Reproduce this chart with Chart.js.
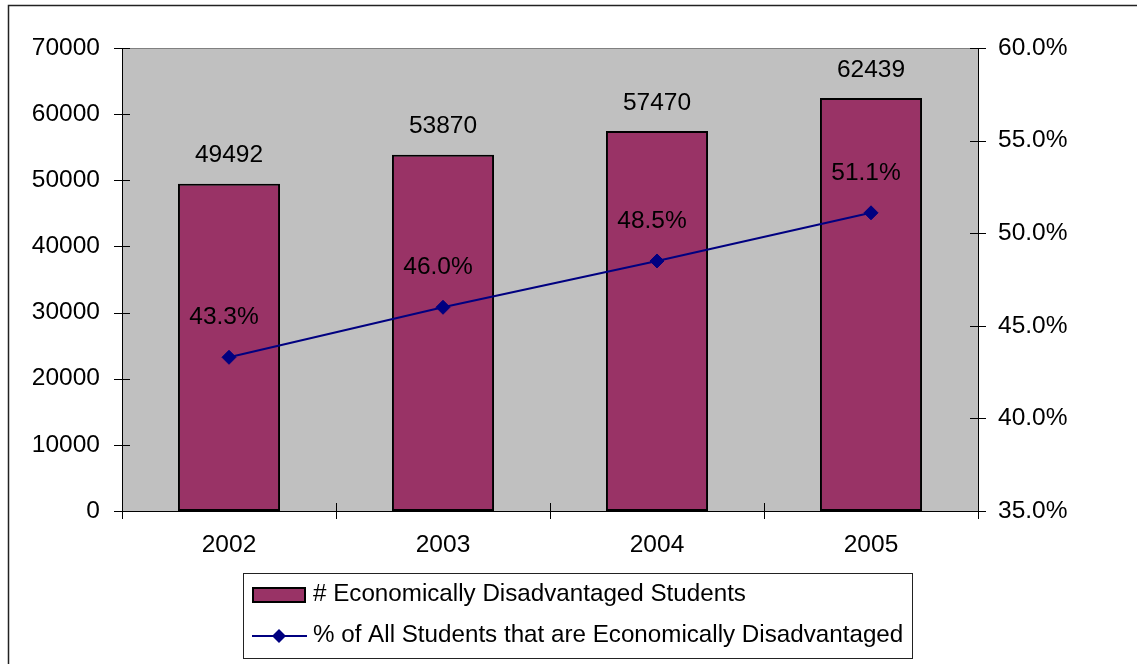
<!DOCTYPE html>
<html lang="en">
<head>
<meta charset="UTF-8">
<title>Economically Disadvantaged Students</title>
<script src="https://cdn.jsdelivr.net/npm/chart.js"></script>
<style>
    html, body { margin: 0; padding: 0; background: #fff; }
    #wrap { width: 1137px; height: 664px; }
</style>
</head>
<body>
<div id="wrap"><canvas id="chart" width="1137" height="664"></canvas></div>
<script>
    const years = ['2002', '2003', '2004', '2005'];
    const studentCounts = [49492, 53870, 57470, 62439];
    const studentPercents = [43.3, 46.0, 48.5, 51.1];
    const countAxis = { min: 0, max: 70000, step: 10000 };
    const percentAxis = { min: 35, max: 60, step: 5 };
    const countLabel = '# Economically Disadvantaged Students';
    const percentLabel = '% of All Students that are Economically Disadvantaged';

    const FONT = '"Liberation Sans", Arial, sans-serif';
    const FONT_SIZE = 24.5;
    const LEGEND_SIZE = 24.2;
    const BAR_COLOR = '#993366';
    const LINE_COLOR = '#000080';

    // frame, grey plot area and the small crossing tick marks
    const framePlugin = {
        id: 'frame',
        beforeDraw(chart) {
            const ctx = chart.ctx;
            ctx.save();
            ctx.strokeStyle = '#222';
            ctx.lineWidth = 1.5;
            ctx.beginPath();
            ctx.moveTo(8.5, chart.height);
            ctx.lineTo(8.5, 5.5);
            ctx.lineTo(chart.width, 5.5);
            ctx.stroke();
            ctx.restore();
        },
        beforeDatasetsDraw(chart) {
            const { ctx, chartArea: a } = chart;
            ctx.save();
            ctx.fillStyle = '#C0C0C0';
            ctx.fillRect(a.left, a.top, a.right - a.left, a.bottom - a.top);
            ctx.strokeStyle = '#808080';
            ctx.lineWidth = 1;
            ctx.strokeRect(a.left + 0.5, a.top + 0.5, a.right - a.left, a.bottom - a.top);
            ctx.restore();
        },
        afterDatasetsDraw(chart) {
            const { ctx, chartArea: a, scales } = chart;
            ctx.save();
            ctx.strokeStyle = '#000';
            ctx.lineWidth = 1;
            ctx.beginPath();
            // axis lines
            ctx.moveTo(a.left + 0.5, a.top); ctx.lineTo(a.left + 0.5, a.bottom);
            ctx.moveTo(a.right + 0.5, a.top); ctx.lineTo(a.right + 0.5, a.bottom);
            ctx.moveTo(a.left, a.bottom + 0.5); ctx.lineTo(a.right, a.bottom + 0.5);
            // left ticks
            scales.y.ticks.forEach(t => {
                const y = Math.round(scales.y.getPixelForValue(t.value)) + 0.5;
                ctx.moveTo(a.left - 8, y); ctx.lineTo(a.left + 8, y);
            });
            // right ticks
            scales.y1.ticks.forEach(t => {
                const y = Math.round(scales.y1.getPixelForValue(t.value)) + 0.5;
                ctx.moveTo(a.right - 8, y); ctx.lineTo(a.right + 8, y);
            });
            // category boundary ticks
            const n = years.length;
            const w = (a.right - a.left) / n;
            for (let i = 0; i <= n; i++) {
                const x = Math.round(a.left + w * i) + 0.5;
                ctx.moveTo(x, a.bottom - 8); ctx.lineTo(x, a.bottom + 8);
            }
            ctx.stroke();

            // value labels
            ctx.fillStyle = '#000';
            ctx.font = FONT_SIZE + 'px ' + FONT;
            ctx.textAlign = 'center';
            ctx.textBaseline = 'middle';
            chart.getDatasetMeta(1).data.forEach((bar, i) => {
                ctx.fillText(String(studentCounts[i]), bar.x, bar.y - 28);
            });
            chart.getDatasetMeta(0).data.forEach((pt, i) => {
                ctx.fillText(studentPercents[i].toFixed(1) + '%', pt.x - 5, pt.y - 40);
            });
            ctx.restore();
        },
        afterDraw(chart) {
            // boxed legend at the bottom
            const ctx = chart.ctx;
            const box = { x: 243, y: 573, w: 669, h: 85 };
            ctx.save();
            ctx.fillStyle = '#fff';
            ctx.fillRect(box.x, box.y, box.w, box.h);
            ctx.strokeStyle = '#222';
            ctx.lineWidth = 1;
            ctx.strokeRect(box.x + 0.5, box.y + 0.5, box.w, box.h);

            ctx.fillStyle = BAR_COLOR;
            ctx.fillRect(253, 588, 52, 14);
            ctx.strokeStyle = '#000';
            ctx.lineWidth = 2;
            ctx.strokeRect(253, 588, 52, 14);

            ctx.strokeStyle = LINE_COLOR;
            ctx.lineWidth = 2;
            ctx.beginPath();
            ctx.moveTo(252, 636); ctx.lineTo(307, 636);
            ctx.stroke();
            ctx.fillStyle = LINE_COLOR;
            ctx.beginPath();
            ctx.moveTo(279, 629); ctx.lineTo(286, 636); ctx.lineTo(279, 643); ctx.lineTo(272, 636);
            ctx.closePath();
            ctx.fill();

            ctx.fillStyle = '#000';
            ctx.font = LEGEND_SIZE + 'px ' + FONT;
            ctx.textAlign = 'left';
            ctx.textBaseline = 'middle';
            ctx.fillText(chart.data.datasets[1].label, 313, 594);
            ctx.fillText(chart.data.datasets[0].label, 313, 635);
            ctx.restore();
        }
    };

    new Chart(document.getElementById('chart'), {
        data: {
            labels: years,
            datasets: [
                {
                    type: 'line',
                    label: percentLabel,
                    data: studentPercents,
                    yAxisID: 'y1',
                    borderColor: LINE_COLOR,
                    backgroundColor: LINE_COLOR,
                    borderWidth: 2,
                    pointStyle: 'rectRot',
                    pointRadius: 7,
                    pointBorderWidth: 1,
                    pointBorderColor: LINE_COLOR,
                    tension: 0,
                    order: 1
                },
                {
                    type: 'bar',
                    label: countLabel,
                    data: studentCounts,
                    yAxisID: 'y',
                    backgroundColor: BAR_COLOR,
                    borderColor: '#000',
                    borderWidth: 2,
                    borderSkipped: false,
                    barPercentage: 0.477,
                    categoryPercentage: 1,
                    order: 2
                }
            ]
        },
        options: {
            responsive: false,
            animation: false,
            layout: { padding: { top: 48, left: 0, right: 0, bottom: 0 } },
            plugins: {
                legend: { display: false },
                tooltip: { enabled: false }
            },
            scales: {
                x: {
                    offset: true,
                    grid: { display: false, drawTicks: false },
                    border: { display: false },
                    ticks: { color: '#000', font: { family: FONT, size: FONT_SIZE }, padding: 20 },
                    afterFit(s) { s.height = 153; }
                },
                y: {
                    position: 'left',
                    min: countAxis.min,
                    max: countAxis.max,
                    grid: { display: false, drawTicks: false },
                    border: { display: false },
                    ticks: {
                        stepSize: countAxis.step,
                        color: '#000',
                        font: { family: FONT, size: FONT_SIZE },
                        padding: 22,
                        callback: v => String(v)
                    },
                    afterFit(s) { s.width = 122; }
                },
                y1: {
                    position: 'right',
                    min: percentAxis.min,
                    max: percentAxis.max,
                    grid: { display: false, drawTicks: false },
                    border: { display: false },
                    ticks: {
                        stepSize: percentAxis.step,
                        color: '#000',
                        font: { family: FONT, size: FONT_SIZE },
                        padding: 20,
                        callback: v => v.toFixed(1) + '%'
                    },
                    afterFit(s) { s.width = 159; }
                }
            }
        },
        plugins: [framePlugin]
    });
</script>
</body>
</html>
